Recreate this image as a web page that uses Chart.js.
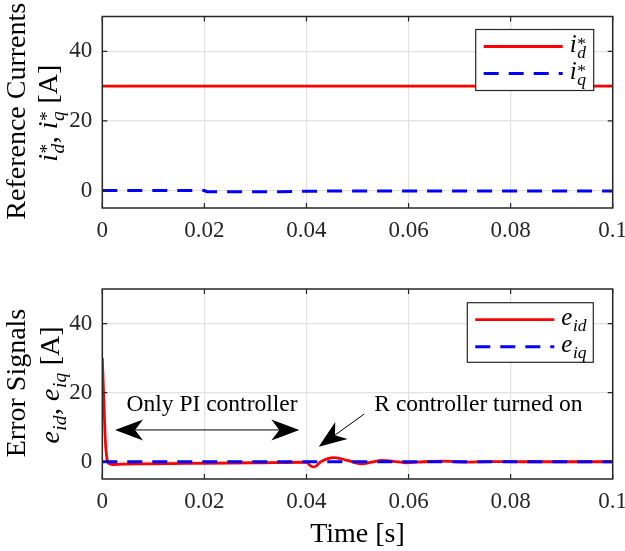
<!DOCTYPE html>
<html lang="en">
<head>
<meta charset="UTF-8">
<title>Reference Currents and Error Signals</title>
<script src="https://cdn.jsdelivr.net/npm/chart.js"></script>
<style>
    body { margin: 0; padding: 0; background: #fff; }
    .wrap { width: 625px; height: 551px; }
    canvas { display: block; }
</style>
</head>
<body>
<div class="wrap">
    <canvas id="graficaRef" width="625" height="275"></canvas>
    <canvas id="graficaErr" width="625" height="276"></canvas>
</div>
<script>
    // ---- datos ----
    const xTicks = [0, 0.02, 0.04, 0.06, 0.08, 0.1];
    const yTicks = [0, 20, 40];

    // corrientes de referencia
    const tIdRef = [0, 0.1];
    const idRef = [30, 30];
    const tIqRef = [0, 0.02, 0.0205, 0.035, 0.045, 0.1];
    const iqRef = [0, 0, -0.3, -0.3, -0.1, -0.1];

    // señales de error
    const tEid = [0, 0.0003, 0.0006, 0.0009, 0.0013, 0.002, 0.004, 0.01, 0.02, 0.03, 0.04,
                  0.0408, 0.0416, 0.0428, 0.0454, 0.048, 0.0509, 0.0528, 0.0548, 0.057, 0.0595,
                  0.063, 0.0665, 0.071, 0.076, 0.082, 0.1];
    const eId = [30, 18, 6, 1, -0.5, -0.8, -0.7, -0.6, -0.45, -0.3, -0.15,
                 -1.2, -1.5, 0, 1.2, 0.4, -0.6, -0.1, 0.4, 0.1, -0.3,
                 0, 0.15, -0.1, 0.05, 0, 0];
    const tEiq = [0, 0.1];
    const eIq = [0, 0];

    // anotaciones (en unidades de datos)
    const piArrow = { x1: 0.0025, x2: 0.0386, y: 9.2 };
    const piText = { x: 0.0215, y: 14.7, text: 'Only PI controller' };
    const rArrow = { x1: 0.0513, y1: 13.8, x2: 0.0424, y2: 4.3 };
    const rText = { x: 0.0533, y: 14.7, text: 'R controller turned on' };

    const serif = '"Liberation Serif", "Times New Roman", serif';
    const axisColor = '#262626';
    const gridColor = '#e2e2e2';
    const red = '#ff0000';
    const blue = '#0000ff';

    function font(size, italic) {
        return (italic ? 'italic ' : '') + size + 'px ' + serif;
    }

    // texto con subindices / superindices
    function richWidth(ctx, segs, size) {
        let w = 0;
        segs.forEach(s => {
            if (s.t !== undefined) {
                ctx.font = font(size, s.it);
                w += ctx.measureText(s.t).width;
            } else {
                const ss = size * 0.7;
                let a = 0, b = 0;
                if (s.sup) { ctx.font = font(ss, false); a = ctx.measureText(s.sup).width; }
                if (s.sub) { ctx.font = font(ss, true); b = ctx.measureText(s.sub).width; }
                w += Math.max(a, b) + 1;
            }
        });
        return w;
    }

    function drawRich(ctx, segs, x, y, size) {
        ctx.textBaseline = 'alphabetic';
        ctx.textAlign = 'left';
        segs.forEach(s => {
            if (s.t !== undefined) {
                ctx.font = font(size, s.it);
                ctx.fillText(s.t, x, y);
                x += ctx.measureText(s.t).width;
            } else {
                const ss = size * 0.7;
                let a = 0, b = 0;
                if (s.sup) {
                    ctx.font = font(ss, false);
                    ctx.fillText(s.sup, x + 0.5, y - size * 0.14);
                    a = ctx.measureText(s.sup).width;
                }
                if (s.sub) {
                    ctx.font = font(ss, true);
                    ctx.fillText(s.sub, x + 0.5, y + size * 0.24);
                    b = ctx.measureText(s.sub).width;
                }
                x += Math.max(a, b) + 1;
            }
        });
    }

    function drawRotated(ctx, segs, xBase, cy, size) {
        const w = richWidth(ctx, segs, size);
        ctx.save();
        ctx.translate(xBase, cy);
        ctx.rotate(-Math.PI / 2);
        drawRich(ctx, segs, -w / 2, 0, size);
        ctx.restore();
    }

    function arrowHead(ctx, xt, yt, ang) {
        const L = 28, W = 10.5, N = 20;
        ctx.save();
        ctx.translate(xt, yt);
        ctx.rotate(ang);
        ctx.beginPath();
        ctx.moveTo(0, 0);
        ctx.lineTo(-L, -W);
        ctx.lineTo(-N, 0);
        ctx.lineTo(-L, W);
        ctx.closePath();
        ctx.fill();
        ctx.restore();
    }

    // plugin que dibuja marcas internas, titulos, leyenda y anotaciones
    function decorPlugin(cfg) {
        return {
            id: 'decor',
            afterDraw(chart) {
                const ctx = chart.ctx;
                const a = chart.chartArea;
                const xs = chart.scales.x, ys = chart.scales.y;
                ctx.save();

                // marcas hacia dentro en los cuatro lados
                ctx.strokeStyle = axisColor;
                ctx.lineWidth = 1.2;
                ctx.beginPath();
                xTicks.forEach(v => {
                    const px = xs.getPixelForValue(v);
                    ctx.moveTo(px, a.bottom); ctx.lineTo(px, a.bottom - 5);
                    ctx.moveTo(px, a.top); ctx.lineTo(px, a.top + 5);
                });
                yTicks.forEach(v => {
                    const py = ys.getPixelForValue(v);
                    ctx.moveTo(a.left, py); ctx.lineTo(a.left + 5, py);
                    ctx.moveTo(a.right, py); ctx.lineTo(a.right - 5, py);
                });
                ctx.stroke();
                ctx.lineWidth = 1.5;
                ctx.strokeRect(a.left, a.top, a.right - a.left, a.bottom - a.top);

                // titulo del eje y (dos lineas)
                ctx.fillStyle = '#000';
                const cy = (a.top + a.bottom) / 2;
                drawRotated(ctx, [{ t: cfg.title1 }], 25, cy - 1, 28);
                drawRotated(ctx, cfg.title2, cfg.title2Base, cy + 1, 28);

                // leyenda
                const lg = cfg.legend;
                const bx = a.right - lg.right - lg.w, by = a.top + lg.top;
                ctx.fillStyle = '#fff';
                ctx.fillRect(bx, by, lg.w, lg.h);
                ctx.strokeStyle = axisColor;
                ctx.lineWidth = 1.2;
                ctx.strokeRect(bx, by, lg.w, lg.h);
                lg.items.forEach((it, i) => {
                    const ly = by + 17 + i * 27;
                    ctx.strokeStyle = it.color;
                    ctx.lineWidth = it.width;
                    ctx.setLineDash(it.dash);
                    ctx.beginPath();
                    ctx.moveTo(bx + 8, ly);
                    ctx.lineTo(bx + 87, ly);
                    ctx.stroke();
                    ctx.setLineDash([]);
                    ctx.fillStyle = '#000';
                    drawRich(ctx, it.label, bx + 94, ly + 5.5, 25);
                });

                // anotaciones
                if (cfg.notes) {
                    ctx.fillStyle = '#000';
                    ctx.strokeStyle = '#000';
                    ctx.lineWidth = 1;
                    const ax1 = xs.getPixelForValue(piArrow.x1), ax2 = xs.getPixelForValue(piArrow.x2);
                    const ay = ys.getPixelForValue(piArrow.y);
                    ctx.beginPath();
                    ctx.moveTo(ax1 + 20, ay); ctx.lineTo(ax2 - 20, ay);
                    ctx.stroke();
                    arrowHead(ctx, ax1, ay, Math.PI);
                    arrowHead(ctx, ax2, ay, 0);

                    const rx1 = xs.getPixelForValue(rArrow.x1), ry1 = ys.getPixelForValue(rArrow.y1);
                    const rx2 = xs.getPixelForValue(rArrow.x2), ry2 = ys.getPixelForValue(rArrow.y2);
                    const ang = Math.atan2(ry2 - ry1, rx2 - rx1);
                    ctx.beginPath();
                    ctx.moveTo(rx1, ry1);
                    ctx.lineTo(rx2 - 20 * Math.cos(ang), ry2 - 20 * Math.sin(ang));
                    ctx.stroke();
                    arrowHead(ctx, rx2, ry2, ang);

                    ctx.font = font(23.5, false);
                    ctx.textBaseline = 'alphabetic';
                    ctx.textAlign = 'center';
                    ctx.fillText(piText.text, xs.getPixelForValue(piText.x), ys.getPixelForValue(piText.y));
                    ctx.textAlign = 'left';
                    ctx.fillText(rText.text, xs.getPixelForValue(rText.x), ys.getPixelForValue(rText.y));
                }

                // titulo del eje x
                if (cfg.xTitle) {
                    ctx.font = font(28, false);
                    ctx.fillStyle = '#000';
                    ctx.textAlign = 'center';
                    ctx.textBaseline = 'alphabetic';
                    ctx.fillText(cfg.xTitle, (a.left + a.right) / 2, a.bottom + 63);
                }
                ctx.restore();
            }
        };
    }

    function serie(ts, vs) {
        return ts.map((t, i) => ({ x: t, y: vs[i] }));
    }

    function crearGrafica(id, datasets, padTop, xHeight, cfg) {
        return new Chart(document.getElementById(id), {
            type: 'line',
            data: { datasets: datasets },
            options: {
                responsive: false,
                animation: false,
                layout: { padding: { left: 0, right: 12.3, top: padTop, bottom: 0 } },
                plugins: { legend: { display: false }, tooltip: { enabled: false } },
                elements: { point: { radius: 0 } },
                scales: {
                    x: {
                        type: 'linear',
                        min: 0, max: 0.1,
                        afterBuildTicks: s => { s.ticks = xTicks.map(v => ({ value: v })); },
                        afterFit: s => { s.height = xHeight; s.paddingLeft = 0; s.paddingRight = 0; },
                        border: { display: false },
                        grid: { color: gridColor, lineWidth: 1.2, drawTicks: false },
                        ticks: {
                            padding: 9,
                            color: axisColor,
                            font: { family: serif, size: 23 },
                            maxRotation: 0,
                            callback: v => String(+v.toFixed(2))
                        }
                    },
                    y: {
                        min: -5, max: 50,
                        afterBuildTicks: s => { s.ticks = yTicks.map(v => ({ value: v })); },
                        afterFit: s => { s.width = 102.3; s.paddingTop = 0; s.paddingBottom = 0; },
                        border: { display: false },
                        grid: { color: gridColor, lineWidth: 1.2, drawTicks: false },
                        ticks: {
                            padding: 10,
                            color: axisColor,
                            font: { family: serif, size: 23 },
                            callback: v => String(v)
                        }
                    }
                }
            },
            plugins: [decorPlugin(cfg)]
        });
    }

    const lineaRoja = { color: red, width: 2.8, dash: [] };
    const lineaAzul = { color: blue, width: 3, dash: [15, 10] };

    crearGrafica('graficaRef', [
        { data: serie(tIdRef, idRef), borderColor: red, borderWidth: 2.8, order: 1 },
        { data: serie(tIqRef, iqRef), borderColor: blue, borderWidth: 3, borderDash: [15, 10], order: 0 }
    ], 16.5, 67, {
        title1: 'Reference Currents',
        title2: [{ t: 'i', it: true }, { sup: '*', sub: 'd' }, { t: ', ' }, { t: 'i', it: true }, { sup: '*', sub: 'q' }, { t: ' [A]' }],
        title2Base: 57,
        legend: {
            right: 19, top: 13, w: 118, h: 61,
            items: [
                Object.assign({ label: [{ t: 'i', it: true }, { sup: '*', sub: 'd' }] }, lineaRoja),
                Object.assign({ label: [{ t: 'i', it: true }, { sup: '*', sub: 'q' }] }, lineaAzul)
            ]
        }
    });

    crearGrafica('graficaErr', [
        { data: serie(tEid, eId), borderColor: red, borderWidth: 2.8, cubicInterpolationMode: 'monotone', order: 1 },
        { data: serie(tEiq, eIq), borderColor: blue, borderWidth: 3, borderDash: [15, 10], order: 0 }
    ], 14, 72, {
        title1: 'Error Signals',
        title2: [{ t: 'e', it: true }, { sub: 'id' }, { t: ', ' }, { t: 'e', it: true }, { sub: 'iq' }, { t: ' [A]' }],
        title2Base: 59,
        legend: {
            right: 19.4, top: 13.7, w: 126, h: 59.6,
            items: [
                Object.assign({ label: [{ t: 'e', it: true }, { sub: 'id' }] }, lineaRoja),
                Object.assign({ label: [{ t: 'e', it: true }, { sub: 'iq' }] }, lineaAzul)
            ]
        },
        notes: true,
        xTitle: 'Time [s]'
    });
</script>
</body>
</html>
